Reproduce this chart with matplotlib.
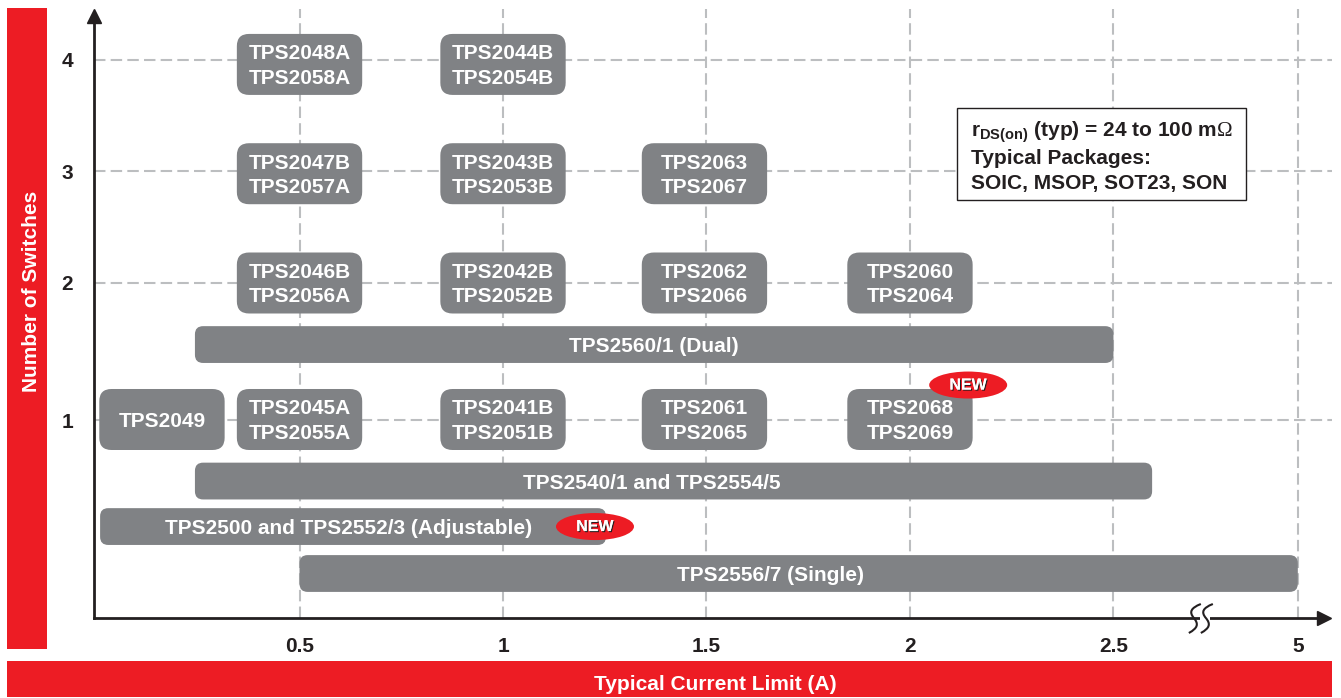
import matplotlib
matplotlib.use('Agg')
import matplotlib.pyplot as plt
import matplotlib.patheffects as pe
from matplotlib.patches import FancyBboxPatch, Ellipse, Rectangle, PathPatch
from matplotlib.path import Path

plt.rcParams['font.family'] = ['Liberation Sans', 'DejaVu Sans']
plt.rcParams['font.weight'] = 'bold'
plt.rcParams['mathtext.fontset'] = 'custom'
plt.rcParams['mathtext.rm'] = 'Liberation Serif:regular'
plt.rcParams['mathtext.bf'] = 'Liberation Sans:bold'

RED = '#ed1c24'
GREY = '#808285'
DARK = '#231f20'

# Osie (pozycje na osi, ostatnia wartosc 5 jest za przerwa osi)
x_ticks = [0.5, 1, 1.5, 2, 2.5, 2.953]
x_labels = ['0.5', '1', '1.5', '2', '2.5', '5']
y_ticks = [0.771, 2, 3, 4]
y_labels = ['1', '2', '3', '4']

# Kafelki: srodek x, wiersz y, tekst
chip_x = [0.5, 1,
          0.5, 1, 1.495,
          0.5, 1, 1.495, 2,
          0.162, 0.5, 1, 1.495, 2]
chip_y = [3.96, 3.96,
          2.98, 2.98, 2.98,
          2.0, 2.0, 2.0, 2.0,
          0.776, 0.776, 0.776, 0.776, 0.776]
chip_text = ['TPS2048A\nTPS2058A', 'TPS2044B\nTPS2054B',
             'TPS2047B\nTPS2057A', 'TPS2043B\nTPS2053B', 'TPS2063\nTPS2067',
             'TPS2046B\nTPS2056A', 'TPS2042B\nTPS2052B', 'TPS2062\nTPS2066', 'TPS2060\nTPS2064',
             'TPS2049', 'TPS2045A\nTPS2055A', 'TPS2041B\nTPS2051B', 'TPS2061\nTPS2065', 'TPS2068\nTPS2069']

# Paski: poczatek, koniec, wiersz, tekst
bar_start = [0.243, 0.243, 0.01, 0.5]
bar_end = [2.5, 2.595, 1.253, 2.953]
bar_y = [1.448, 0.224, -0.184, -0.605]
bar_text = ['TPS2560/1 (Dual)', 'TPS2540/1 and TPS2554/5',
            'TPS2500 and TPS2552/3 (Adjustable)', 'TPS2556/7 (Single)']
bar_text_x = [1.37, 1.365, 0.62, 1.658]

new_x = [2.143, 1.226]
new_y = [1.085, -0.184]

info_lines = [r'r$_{\mathbf{DS(on)}}$ (typ) = 24 to 100 m$\mathrm{\Omega}$',
              'Typical Packages:',
              'SOIC, MSOP, SOT23, SON']
info_y = [3.35, 3.12, 2.89]

W, H = 1341, 698
fig = plt.figure(figsize=(W / 100, H / 100), dpi=100, facecolor='white')
ax = fig.add_axes([94 / W, 1 - 618 / H, (1332 - 94) / W, (618 - 9) / H])
ax.set_xlim(-0.005, 3.037)
ax.set_ylim(-1.004, 4.457)
aspect = 407 / 111.5

for s in ['top', 'right']:
    ax.spines[s].set_visible(False)
for s in ['left', 'bottom']:
    ax.spines[s].set_linewidth(2)
    ax.spines[s].set_color(DARK)
ax.spines['left'].set_bounds(-1.004, 4.35)
ax.spines['bottom'].set_bounds(-0.005, 3.0)
ax.plot(0.9935, 0, '>', color=DARK, ms=10, transform=ax.transAxes, clip_on=False, zorder=6)
ax.plot(0, 0.9885, '^', color=DARK, ms=10, transform=ax.transAxes, clip_on=False, zorder=6)

ax.set_xticks(x_ticks, x_labels, fontsize=15, color=DARK)
ax.set_yticks(y_ticks, y_labels, fontsize=15, color=DARK)
ax.tick_params(axis='both', length=0)
ax.tick_params(axis='x', pad=13.5)
ax.tick_params(axis='y', pad=15)
ax.set_axisbelow(True)
ax.grid(True, color='#bcbec0', linewidth=1.5, linestyle=(0, (5.5, 2.5)))


def rounded(x0, x1, yc, height, r):
    ax.add_patch(FancyBboxPatch((x0, yc - height / 2), x1 - x0, height,
                                boxstyle=f'round,pad=0,rounding_size={r}',
                                mutation_aspect=aspect, fc=GREY, ec='none', zorder=3))


for x, y, t in zip(chip_x, chip_y, chip_text):
    rounded(x - 0.154, x + 0.154, y, 0.547, 0.03)
    ax.text(x, y - 0.014, t, color='white', fontsize=15, ha='center', va='center',
            linespacing=1.36, zorder=4)

for x0, x1, y, t, tx in zip(bar_start, bar_end, bar_y, bar_text, bar_text_x):
    rounded(x0, x1, y, 0.33, 0.02)
    ax.text(tx, y - 0.018, t, color='white', fontsize=15, ha='center', va='center', zorder=4)

for x, y in zip(new_x, new_y):
    ax.add_patch(Ellipse((x, y), 78 / 407, 27 / 111.5, fc=RED, ec='none', zorder=5))
    ax.text(x, y, 'NEW', color='white', fontsize=11.5, ha='center', va='center', zorder=6,
            path_effects=[pe.withSimplePatchShadow(offset=(0.8, -0.8), shadow_rgbFace=DARK, alpha=1),
                          pe.Normal()])

# Ramka z informacja
ax.add_patch(Rectangle((2.115, 2.744), 0.711, 0.826, fc='white', ec=DARK, lw=1, zorder=3))
for y, t in zip(info_y, info_lines):
    ax.text(2.15, y, t, color=DARK, fontsize=15, ha='left', va='center', zorder=4)

# Przerwa osi x
ax.add_patch(Rectangle((2.713, -1.03), 0.025, 0.06, fc='white', ec='none', zorder=7, clip_on=False))
for dx in [0, 12 / 407]:
    sx = 1 / 407
    sy = 1 / 111.5
    x0 = 2.70 + dx
    y0 = -1.004
    verts = [(x0 + 6 * sx, y0 + 14 * sy), (x0 - 4 * sx, y0 + 10 * sy), (x0 - 6 * sx, y0 + 6 * sy),
             (x0 - 1 * sx, y0 + 0 * sy),
             (x0 + 4 * sx, y0 - 6 * sy), (x0 + 3 * sx, y0 - 10 * sy), (x0 - 6 * sx, y0 - 15 * sy)]
    codes = [Path.MOVETO, Path.CURVE4, Path.CURVE4, Path.CURVE4, Path.CURVE4, Path.CURVE4, Path.CURVE4]
    ax.add_patch(PathPatch(Path(verts, codes), fc='none', ec=DARK, lw=1.5, zorder=8, clip_on=False))

# Czerwone paski z opisami osi
fig.patches.append(Rectangle((7 / W, 1 - 649 / H), 40 / W, 641 / H, fc=RED, ec='none', transform=fig.transFigure))
fig.patches.append(Rectangle((7 / W, 1 - 697 / H), 1325 / W, 36 / H, fc=RED, ec='none', transform=fig.transFigure))
fig.text(32 / W, 1 - 291 / H, 'Number of Switches', color='white', fontsize=15,
         rotation=90, ha='center', va='center')
fig.text(715 / W, 1 - 684 / H, 'Typical Current Limit (A)', color='white', fontsize=15,
         ha='center', va='center')

fig.savefig('out.png', dpi=100)
